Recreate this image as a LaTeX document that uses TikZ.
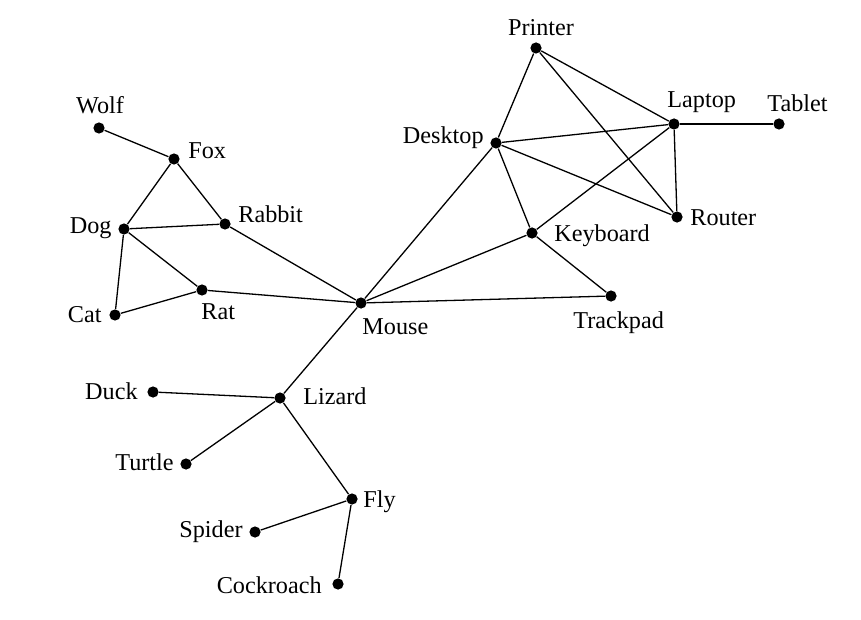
\documentclass[tikz,border=0pt]{standalone}
\usepackage{fontspec}
\setmainfont{Liberation Serif}
\usepackage{tikz}
\usetikzlibrary{positioning}

\begin{document}
\begin{tikzpicture}[x=0.5pt, y=-0.5pt, font=\fontsize{12.1}{14}\selectfont]
    \useasboundingbox (0,0) rectangle (861,620);
    \tikzstyle{dot} = [circle, fill=black, inner sep=0pt, minimum size=5.6pt];
    \tikzstyle{lbl} = [inner sep=0pt];
    \tikzstyle{conn} = [draw, line width=0.65pt];
    \node[dot] at (99,128) (wolf) {};
    \node[dot] at (174,159) (fox) {};
    \node[dot] at (124,229) (dog) {};
    \node[dot] at (225,224) (rabbit) {};
    \node[dot] at (115,315) (cat) {};
    \node[dot] at (202,290) (rat) {};
    \node[dot] at (361,303) (mouse) {};
    \node[dot] at (153,392) (duck) {};
    \node[dot] at (280,398) (lizard) {};
    \node[dot] at (186,464) (turtle) {};
    \node[dot] at (352,499) (fly) {};
    \node[dot] at (255,532) (spider) {};
    \node[dot] at (338,584) (cockroach) {};
    \node[dot] at (536,48) (printer) {};
    \node[dot] at (496,143) (desktop) {};
    \node[dot] at (674,124) (laptop) {};
    \node[dot] at (779,124) (tablet) {};
    \node[dot] at (677,217) (router) {};
    \node[dot] at (532,233) (keyboard) {};
    \node[dot] at (611,296) (trackpad) {};
    \node[lbl, anchor=base] at (100,114) (wolf-l) {Wolf};
    \node[lbl, anchor=base west] at (188,159) (fox-l) {Fox};
    \node[lbl, anchor=base east] at (112,234) (dog-l) {Dog};
    \node[lbl, anchor=base west] at (238,222) (rabbit-l) {Rabbit};
    \node[lbl, anchor=base east] at (102,322) (cat-l) {Cat};
    \node[lbl, anchor=base west] at (201,319) (rat-l) {Rat};
    \node[lbl, anchor=base west] at (362,334) (mouse-l) {Mouse};
    \node[lbl, anchor=base east] at (138,399) (duck-l) {Duck};
    \node[lbl, anchor=base west] at (303,404) (lizard-l) {Lizard};
    \node[lbl, anchor=base east] at (174,470) (turtle-l) {Turtle};
    \node[lbl, anchor=base west] at (363,507) (fly-l) {Fly};
    \node[lbl, anchor=base east] at (243,537) (spider-l) {Spider};
    \node[lbl, anchor=base east] at (322,593) (cockroach-l) {Cockroach};
    \node[lbl, anchor=base] at (541,36) (printer-l) {Printer};
    \node[lbl, anchor=base east] at (484,144) (desktop-l) {Desktop};
    \node[lbl, anchor=base west] at (667,108) (laptop-l) {Laptop};
    \node[lbl, anchor=base west] at (767,112) (tablet-l) {Tablet};
    \node[lbl, anchor=base west] at (690,226) (router-l) {Router};
    \node[lbl, anchor=base west] at (554,242) (keyboard-l) {Keyboard};
    \node[lbl, anchor=base west] at (573,328) (trackpad-l) {Trackpad};
    \path[conn] (wolf) -- (fox);
    \path[conn] (fox) -- (dog);
    \path[conn] (fox) -- (rabbit);
    \path[conn] (dog) -- (rabbit);
    \path[conn] (dog) -- (cat);
    \path[conn] (dog) -- (rat);
    \path[conn] (cat) -- (rat);
    \path[conn] (rat) -- (mouse);
    \path[conn] (rabbit) -- (mouse);
    \path[conn] (mouse) -- (desktop);
    \path[conn] (mouse) -- (keyboard);
    \path[conn] (mouse) -- (trackpad);
    \path[conn] (mouse) -- (lizard);
    \path[conn] (lizard) -- (duck);
    \path[conn] (lizard) -- (turtle);
    \path[conn] (lizard) -- (fly);
    \path[conn] (fly) -- (spider);
    \path[conn] (fly) -- (cockroach);
    \path[conn] (printer) -- (desktop);
    \path[conn] (printer) -- (laptop);
    \path[conn] (printer) -- (router);
    \path[conn] (desktop) -- (laptop);
    \path[conn] (desktop) -- (router);
    \path[conn] (desktop) -- (keyboard);
    \path[conn] (laptop) -- (keyboard);
    \path[conn] (laptop) -- (router);
    \path[conn] (keyboard) -- (trackpad);
    \path[conn, line width=1pt] (laptop) -- (tablet);
\end{tikzpicture}
\end{document}
